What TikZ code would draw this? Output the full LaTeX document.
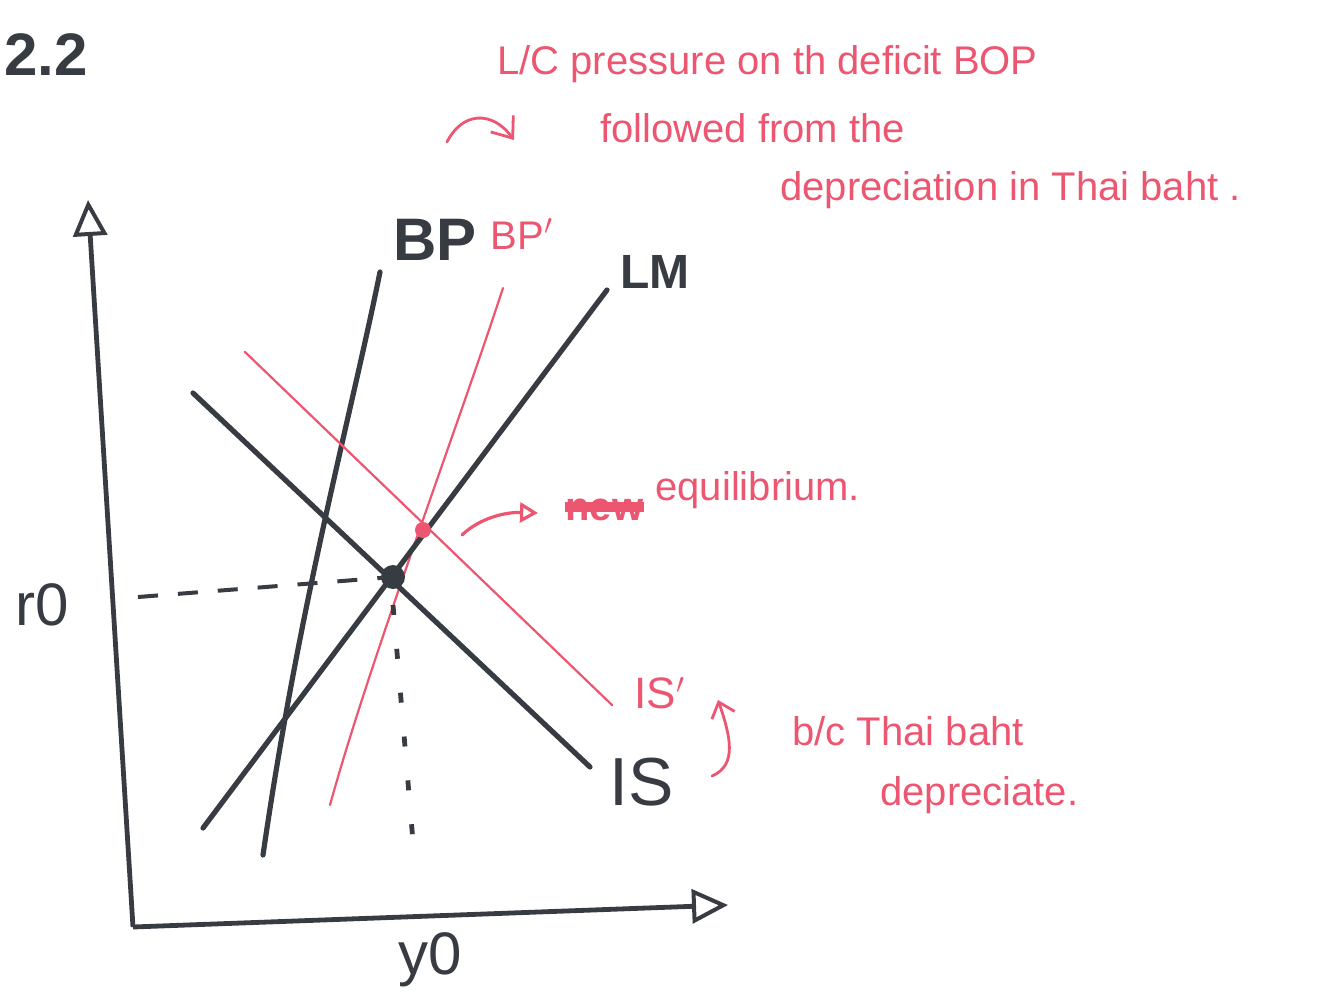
\documentclass[tikz,border=0pt]{standalone}
\usepackage{fontspec}
\setmainfont{Liberation Sans}
\usetikzlibrary{arrows.meta}

\definecolor{inkgray}{RGB}{55,60,66}
\definecolor{inkred}{RGB}{236,86,112}

\begin{document}
\begin{tikzpicture}[
    x=0.5pt, y=-0.5pt,
    >=Stealth,
    blackcurve/.style={draw=inkgray, line width=2.6pt, line cap=round},
    redcurve/.style={draw=inkred, line width=1.1pt, line cap=round},
    axis/.style={draw=inkgray, line width=2.4pt,
      -{Triangle[open, length=18pt, width=17pt, line width=2pt]}},
    blacklabel/.style={text=inkgray, inner sep=0pt, font=\fontsize{30}{34}\selectfont\bfseries},
    redlabel/.style={text=inkred, inner sep=0pt, font=\fontsize{20}{24}\selectfont},
    note/.style={text=inkred, inner sep=0pt, anchor=base west, font=\fontsize{20}{24}\selectfont}
]
    \useasboundingbox (0,0) rectangle (1339,995);

    % Axes
    \coordinate (origin) at (133,927);
    \coordinate (rtop) at (88,200);
    \coordinate (yend) at (728,905);
    \draw[axis] (origin) -- (rtop);
    \draw[axis] (origin) -- (yend);

    % Curve end points
    \coordinate (bp0) at (263,855);  \coordinate (bp1) at (380,272);
    \coordinate (bpr0) at (330,805); \coordinate (bpr1) at (503,288);
    \coordinate (lm0) at (203,828);  \coordinate (lm1) at (607,290);
    \coordinate (is0) at (193,393);  \coordinate (is1) at (590,767);
    \coordinate (isr0) at (245,352); \coordinate (isr1) at (612,705);
    \coordinate (E0) at (393,577);
    \coordinate (E1) at (423,530);

    % Curves
    \draw[blackcurve] (bp0) .. controls (300,600) and (350,420) .. (bp1);
    \draw[redcurve] (bpr0) .. controls (370,660) and (460,420) .. (bpr1);
    \draw[blackcurve] (lm0) -- (lm1);
    \draw[blackcurve] (is0) -- (is1);
    \draw[redcurve] (isr0) -- (isr1);

    % Equilibrium points and guide lines
    \coordinate (rzero) at (138,597);
    \coordinate (yzero) at (415,865);
    \draw[inkgray, line width=2pt, dash pattern=on 10pt off 10pt] (rzero) -- (E0);
    \draw[inkgray, line width=2.4pt, dash pattern=on 5pt off 17pt] ([yshift=-14pt]E0) -- (yzero);
    \fill[inkgray] (E0) circle (6pt);
    \fill[inkred] (E1) circle (4pt);

    % Black labels
    \node[blacklabel] (title) at (46,55) {2.2};
    \node[blacklabel] (bplabel) at (435,240) {BP};
    \node[blacklabel, font=\fontsize{24}{28}\selectfont\bfseries] (lmlabel) at (655,272) {LM};
    \node[blacklabel, font=\fontsize{34}{38}\selectfont] (islabel) at (642,782) {IS};
    \node[blacklabel, font=\fontsize{30}{34}\selectfont] (rlabel) at (42,605) {r0};
    \node[blacklabel, font=\fontsize{30}{34}\selectfont] (ylabel) at (430,960) {y0};

    % Red labels
    \node[redlabel] (bprlabel) at (522,234) {BP$^{\prime}$};
    \node[redlabel, font=\fontsize{22}{26}\selectfont] (isrlabel) at (660,693) {IS$^{\prime}$};

    % Notes
    \node[note] (note1) at (497,75) {L/C pressure on th deficit BOP};
    \node[note] (note2) at (600,142) {followed from the};
    \node[note] (note3) at (780,200) {depreciation in Thai baht .};
    \coordinate (notetail) at (447,142);
    \coordinate (notehead) at (514,140);
    \draw[redcurve, line width=1.4pt, -{Straight Barb[length=9pt, width=14pt]}]
      (notetail) .. controls (462,112) and (492,110) .. (notehead);

    \node[note, font=\fontsize{20}{24}\selectfont\bfseries] (newword) at (565,520) {new};
    \draw[inkred, line width=5pt] ([yshift=1pt]newword.west) -- ([yshift=1pt]newword.east);
    \node[note] (eqtext) at (655,500) {equilibrium.};
    \coordinate (eqtail) at (462,535);
    \coordinate (eqhead) at (538,513);
    \draw[redcurve, line width=1.6pt, -{Triangle[open, length=9pt, width=10pt]}]
      (eqtail) .. controls (480,518) and (505,512) .. (eqhead);

    \node[note] (bcnote) at (792,745) {b/c Thai baht};
    \node[note] (depnote) at (880,805) {depreciate.};
    \coordinate (shifttail) at (712,776);
    \coordinate (shifthead) at (718,700);
    \draw[redcurve, line width=1.4pt, -{Straight Barb[length=7pt, width=12pt]}]
      (shifttail) .. controls (738,765) and (730,735) .. (shifthead);
\end{tikzpicture}
\end{document}
